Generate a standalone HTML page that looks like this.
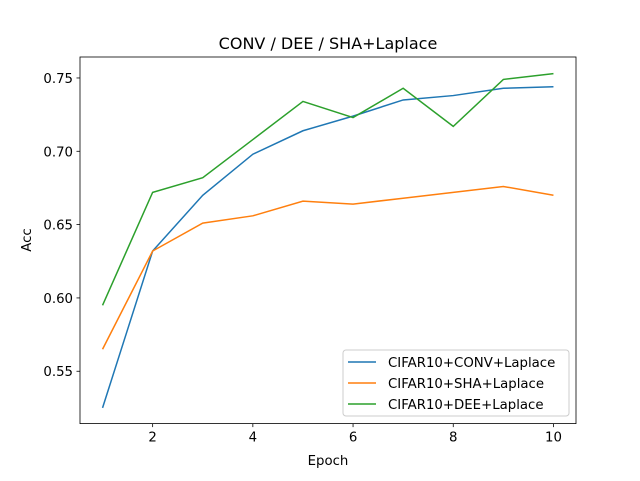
<!DOCTYPE html>
<html><head><meta charset="utf-8"><style>
body{margin:0;background:#fff}
svg text{font-family:"DejaVu Sans","Liberation Sans",sans-serif;fill:#000}
</style></head><body>
<svg id="chart" width="640" height="476" xmlns="http://www.w3.org/2000/svg"></svg>
<script>
const epochs=[1,2,3,4,5,6,7,8,9,10];
const convAcc=[0.525,0.632,0.670,0.698,0.714,0.724,0.735,0.738,0.743,0.744];
const shaAcc=[0.565,0.632,0.651,0.656,0.666,0.664,0.668,0.672,0.676,0.670];
const deeAcc=[0.595,0.672,0.682,0.708,0.734,0.723,0.743,0.717,0.749,0.753];
const xTicks=[2,4,6,8,10];
const yTicks=[0.55,0.60,0.65,0.70,0.75];
const seriesNames=["CIFAR10+CONV+Laplace","CIFAR10+SHA+Laplace","CIFAR10+DEE+Laplace"];
const L=80,R=576,T=57,B=423.6;
const xmin=0.55,xmax=10.45,ymin=0.5143,ymax=0.7643;
const sx=v=>L+(v-xmin)/(xmax-xmin)*(R-L);
const sy=v=>B-(v-ymin)/(ymax-ymin)*(B-T);
const svg=document.getElementById('chart');
const NS="http://www.w3.org/2000/svg";
function mk(tag,attrs,parent){const e=document.createElementNS(NS,tag);for(const k in attrs)e.setAttribute(k,attrs[k]);(parent||svg).appendChild(e);return e;}
function txt(s,attrs){const e=mk('text',attrs);e.textContent=s;return e;}
const colors=["#1f77b4","#ff7f0e","#2ca02c"];
const data=[convAcc,shaAcc,deeAcc];
data.forEach((ys,i)=>{
  const p=mk('polyline',{points:epochs.map((x,j)=>sx(x)+','+sy(ys[j])).join(' '),fill:'none',stroke:colors[i],'stroke-width':1.5});
  
  
});
const frame=mk('rect',{x:L,y:T,width:R-L,height:B-T,fill:'none',stroke:'#000','stroke-width':0.8});


xTicks.forEach(v=>{
  mk('line',{x1:sx(v),x2:sx(v),y1:B,y2:B+3.5,stroke:'#000','stroke-width':0.8});
  const t=txt(String(v),{x:sx(v),y:B+18,'text-anchor':'middle','font-size':13.3});
  
  
});
yTicks.forEach(v=>{
  mk('line',{x1:L-3.5,x2:L,y1:sy(v),y2:sy(v),stroke:'#000','stroke-width':0.8});
  const t=txt(v.toFixed(2),{x:L-7,y:sy(v)+5,'text-anchor':'end','font-size':13.3});
  
  
});
const title=txt("CONV / DEE / SHA+Laplace",{x:(L+R)/2,y:49,'text-anchor':'middle','font-size':16});


const xl=txt("Epoch",{x:(L+R)/2,y:465,'text-anchor':'middle','font-size':13.3});


const yl=txt("Acc",{x:31,y:240,'text-anchor':'middle','font-size':13.3,transform:'rotate(-90 31 240)'});


const lg=mk('rect',{x:343,y:350,width:226,height:66,rx:3,fill:'#fff','fill-opacity':0.8,stroke:'#ccc','stroke-width':1});


seriesNames.forEach((n,i)=>{
  const y=362+i*21;
  mk('line',{x1:348,x2:376,y1:y,y2:y,stroke:colors[i],'stroke-width':1.5});
  const t=txt(n,{x:388,y:y+5,'font-size':13.3});
  
  
});
</script>
</body></html>
